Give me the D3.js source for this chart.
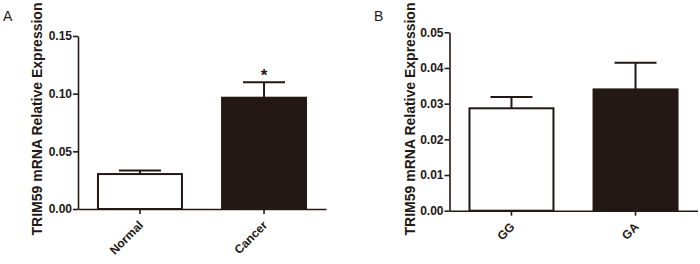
<!DOCTYPE html>
<html>
<head>
<meta charset="utf-8">
<script src="https://cdn.jsdelivr.net/npm/d3@7"></script>
<style>
    body { margin: 0; background: #fff; }
    svg { display: block; font-family: "Liberation Sans", Arial, sans-serif; }
    .axis path, .axis line { stroke: #231815; stroke-width: 1.6px; }
    .axis text { font-size: 12px; font-weight: bold; fill: #231815; }
</style>
</head>
<body>
<div id="chart"></div>
<script>
// Panel A
let catsA = ["Normal", "Cancer"];
let meansA = [0.0303, 0.0965];
let errA = [0.0030, 0.0133];
let ticksA = [0, 0.05, 0.10, 0.15];

// Panel B
let catsB = ["GG", "GA"];
let meansB = [0.0287, 0.0340];
let errB = [0.0032, 0.0075];
let ticksB = [0, 0.01, 0.02, 0.03, 0.04, 0.05];

let fills = ["#ffffff", "#231815"];
let ink = "#231815";

let svg = d3.select("#chart").append("svg")
    .attr("width", 700)
    .attr("height", 264);

function drawPanel(opt) {
    let g = svg.append("g");

    let x = d3.scaleBand()
        .domain(opt.cats)
        .range([opt.left, opt.left + 248])
        .paddingInner(0.323)
        .paddingOuter(0.161);

    let y = d3.scaleLinear()
        .domain([0, opt.max])
        .range([opt.bottom, opt.top]);

    // bars
    g.selectAll(".bar")
        .data(opt.cats)
        .enter().append("rect")
        .attr("class", "bar")
        .attr("x", d => x(d))
        .attr("width", x.bandwidth())
        .attr("y", (d, i) => y(opt.means[i]))
        .attr("height", (d, i) => y(0) - y(opt.means[i]))
        .attr("fill", (d, i) => fills[i])
        .attr("stroke", ink)
        .attr("stroke-width", 2);

    // error bars (upper only)
    let eb = g.selectAll(".err")
        .data(opt.cats)
        .enter().append("g")
        .attr("class", "err")
        .attr("stroke", ink)
        .attr("stroke-width", 2);

    eb.append("line")
        .attr("x1", d => x(d) + x.bandwidth() / 2)
        .attr("x2", d => x(d) + x.bandwidth() / 2)
        .attr("y1", (d, i) => y(opt.means[i]))
        .attr("y2", (d, i) => y(opt.means[i] + opt.errs[i]));

    eb.append("line")
        .attr("x1", d => x(d) + x.bandwidth() / 2 - 21)
        .attr("x2", d => x(d) + x.bandwidth() / 2 + 21)
        .attr("y1", (d, i) => y(opt.means[i] + opt.errs[i]))
        .attr("y2", (d, i) => y(opt.means[i] + opt.errs[i]));

    // axes
    g.append("g")
        .attr("class", "axis")
        .attr("transform", "translate(" + opt.left + ",0)")
        .call(d3.axisLeft(y).tickValues(opt.ticks).tickFormat(d3.format(".2f")).tickSize(5).tickSizeOuter(0))
        .selectAll("text").attr("x", -6);

    let xa = g.append("g")
        .attr("class", "axis")
        .attr("transform", "translate(0," + opt.bottom + ")")
        .call(d3.axisBottom(x).tickSize(5).tickSizeOuter(0));

    xa.selectAll("text")
        .attr("text-anchor", "end")
        .attr("x", 0)
        .attr("y", 0)
        .attr("dy", 0)
        .attr("transform", "translate(4,17) rotate(-45)");

    // y title
    g.append("text")
        .attr("transform", "translate(" + opt.titleX + ",119) rotate(-90)")
        .attr("text-anchor", "middle")
        .attr("font-size", "14px")
        .attr("font-weight", "bold")
        .attr("fill", ink)
        .text("TRIM59 mRNA Relative Expression");

    // panel letter
    g.append("text")
        .attr("x", opt.letterX)
        .attr("y", 21)
        .attr("font-size", "14px")
        .attr("fill", ink)
        .text(opt.letter);

    return {x: x, y: y, g: g};
}

let pA = drawPanel({cats: catsA, means: meansA, errs: errA, ticks: ticksA, max: 0.15,
    left: 78, top: 36, bottom: 209, titleX: 41.5, letter: "A", letterX: 3});

let pB = drawPanel({cats: catsB, means: meansB, errs: errB, ticks: ticksB, max: 0.05,
    left: 449.5, top: 32.3, bottom: 210.7, titleX: 414.5, letter: "B", letterX: 374});

// significance mark on Cancer
pA.g.append("text")
    .attr("x", pA.x("Cancer") + pA.x.bandwidth() / 2)
    .attr("y", pA.y(meansA[1] + errA[1]) - 1)
    .attr("text-anchor", "middle")
    .attr("font-size", "17px")
    .attr("font-weight", "bold")
    .attr("fill", ink)
    .text("*");
</script>
</body>
</html>
